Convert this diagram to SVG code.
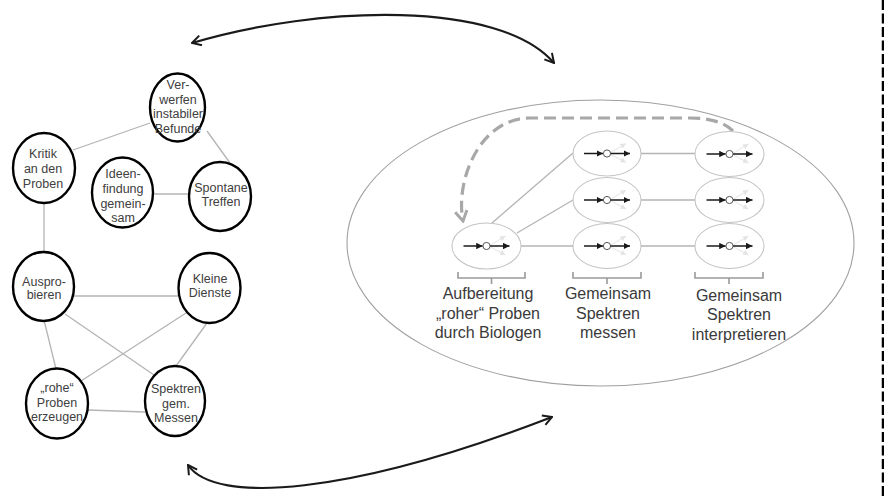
<svg xmlns="http://www.w3.org/2000/svg" width="884" height="499" viewBox="0 0 884 499">
<defs>
<style>
.n{fill:#fff;stroke:#000;stroke-width:2.4}
.t{font-family:"Liberation Sans",Arial,sans-serif;font-size:12.5px;fill:#404040;text-anchor:middle}
.lbl{font-family:"Liberation Sans",Arial,sans-serif;font-size:16px;fill:#3a3a3a;text-anchor:middle}
.e{stroke:#b4b4b4;stroke-width:1.3;fill:none}
.se{fill:#fff;stroke:#c4c4c4;stroke-width:1.1}
.big{fill:none;stroke:#1a1a1a;stroke-width:2.2}
.br{fill:none;stroke:#9a9a9a;stroke-width:1.6}
</style>
<marker id="ah" viewBox="0 0 12 12" refX="11" refY="6" markerWidth="12" markerHeight="12" markerUnits="userSpaceOnUse" orient="auto-start-reverse">
<path d="M2,1 L11,6 L2,11" fill="none" stroke="#1a1a1a" stroke-width="2"/>
</marker>
<marker id="dh" viewBox="0 0 14 14" refX="12" refY="7" markerWidth="14" markerHeight="14" markerUnits="userSpaceOnUse" orient="auto">
<path d="M2,1 L12,7 L2,13" fill="none" stroke="#a8a8a8" stroke-width="3"/>
</marker>
<marker id="sa" viewBox="0 0 6 6" refX="6" refY="3" markerWidth="6.5" markerHeight="6.5" markerUnits="userSpaceOnUse" orient="auto">
<path d="M0,0 L6,3 L0,6 Z" fill="#1a1a1a"/>
</marker>
<marker id="fa" viewBox="0 0 6 6" refX="6" refY="3" markerWidth="5.5" markerHeight="5.5" markerUnits="userSpaceOnUse" orient="auto">
<path d="M0,0 L6,3 L0,6 Z" fill="#e4e4e4"/>
</marker>
<g id="icon">
<line x1="4" y1="-1" x2="19" y2="-10" stroke="#e4e4e4" stroke-width="1" marker-end="url(#fa)"/>
<line x1="4" y1="1" x2="19" y2="9" stroke="#e4e4e4" stroke-width="1" marker-end="url(#fa)"/>
<line x1="-23" y1="0" x2="-3.8" y2="0" stroke="#1a1a1a" stroke-width="1.5" marker-end="url(#sa)"/>
<circle cx="0" cy="0" r="3.6" fill="#fff" stroke="#555" stroke-width="1"/>
<line x1="3.6" y1="0" x2="23" y2="0" stroke="#1a1a1a" stroke-width="1.5" marker-end="url(#sa)"/>
</g>
</defs>
<rect width="884" height="499" fill="#fff"/>
<line x1="883" y1="0" x2="883" y2="499" stroke="#000" stroke-width="2.5" stroke-dasharray="10,3.5"/>

<g id="connectors">
<line class="e" x1="73" y1="150" x2="150" y2="123"/>
<line class="e" x1="207" y1="131" x2="230" y2="163"/>
<line class="e" x1="153" y1="194" x2="189" y2="194"/>
<line class="e" x1="44" y1="203" x2="44" y2="252"/>
<line class="e" x1="74" y1="296" x2="178" y2="296"/>
<line class="e" x1="44" y1="320" x2="56" y2="369"/>
<line class="e" x1="65" y1="314" x2="154" y2="375"/>
<line class="e" x1="186" y1="313" x2="81" y2="381"/>
<line class="e" x1="207" y1="323" x2="176" y2="366"/>
<line class="e" x1="88" y1="410" x2="145" y2="412"/>
<path class="big" d="M192,43 C320,5 500,0 554,63" marker-start="url(#ah)" marker-end="url(#ah)"/>
<path class="big" d="M188,465 C215,505 350,495 552,417" marker-start="url(#ah)" marker-end="url(#ah)"/>
</g>

<g id="n-verwerfen"><ellipse class="n" cx="177.5" cy="107.5" rx="27.5" ry="34"/>
<text class="t" x="178" y="89">Ver-</text><text class="t" x="178" y="103.5">werfen</text><text class="t" x="178" y="118">instabiler</text><text class="t" x="178" y="132.5">Befunde</text></g>
<g id="n-kritik"><ellipse class="n" cx="44" cy="168" rx="31" ry="35"/>
<text class="t" x="43" y="157.5">Kritik</text><text class="t" x="43" y="172.5">an den</text><text class="t" x="43" y="187.5">Proben</text></g>
<g id="n-ideen"><ellipse class="n" cx="122.5" cy="192.5" rx="30.5" ry="35"/>
<text class="t" x="123" y="177.5">Ideen-</text><text class="t" x="123" y="192.5">findung</text><text class="t" x="123" y="207.5">gemein-</text><text class="t" x="123" y="222">sam</text></g>
<g id="n-spontane"><ellipse class="n" cx="220" cy="196.5" rx="31" ry="34.5"/>
<text class="t" x="221" y="191.5">Spontane</text><text class="t" x="221" y="205.5">Treffen</text></g>
<g id="n-auspro"><ellipse class="n" cx="43.5" cy="286.5" rx="30.5" ry="34.5"/>
<text class="t" x="44" y="286">Auspro-</text><text class="t" x="44" y="299">bieren</text></g>
<g id="n-kleine"><ellipse class="n" cx="209.5" cy="288" rx="31" ry="35"/>
<text class="t" x="210" y="282.5">Kleine</text><text class="t" x="210" y="296.5">Dienste</text></g>
<g id="n-rohe"><ellipse class="n" cx="57" cy="403.5" rx="31" ry="35"/>
<text class="t" x="57" y="391.5">„rohe“</text><text class="t" x="57" y="406.5">Proben</text><text class="t" x="57" y="420.5">erzeugen</text></g>
<g id="n-spektren"><ellipse class="n" cx="175" cy="401" rx="30" ry="35"/>
<text class="t" x="176" y="392.5">Spektren</text><text class="t" x="176" y="407.5">gem.</text><text class="t" x="176" y="421.5">Messen</text></g>

<g id="prozess">
<ellipse cx="600.5" cy="243" rx="253.5" ry="143" fill="none" stroke="#a0a0a0" stroke-width="1.1"/>
<g id="prozess-connectors">
<line class="e" x1="492" y1="223" x2="573" y2="153"/>
<line class="e" x1="517" y1="233" x2="573" y2="200"/>
<line class="e" x1="521" y1="246" x2="573" y2="246"/>
<line class="e" x1="641" y1="153.5" x2="695" y2="153.5"/>
<line class="e" x1="641" y1="200" x2="695" y2="200"/>
<line class="e" x1="641" y1="246" x2="695" y2="246"/>
<path d="M733,131 Q720,118 690,118 L530,118 C480,118 455,180 463,221" fill="none" stroke="#a8a8a8" stroke-width="3.2" stroke-dasharray="12,6" marker-end="url(#dh)"/>
</g>
<g id="s-a"><ellipse class="se" cx="486.5" cy="246" rx="34.5" ry="23"/><use href="#icon" x="486.5" y="246"/></g>
<g id="s-b1"><ellipse class="se" cx="607" cy="153.5" rx="34" ry="22.5"/><use href="#icon" x="607" y="153.5"/></g>
<g id="s-b2"><ellipse class="se" cx="607" cy="200" rx="34" ry="22.5"/><use href="#icon" x="607" y="200"/></g>
<g id="s-b3"><ellipse class="se" cx="607" cy="246" rx="34" ry="22.5"/><use href="#icon" x="607" y="246"/></g>
<g id="s-c1"><ellipse class="se" cx="729.5" cy="154" rx="34.5" ry="22.5"/><use href="#icon" x="729.5" y="154"/></g>
<g id="s-c2"><ellipse class="se" cx="729.5" cy="200" rx="34.5" ry="22.5"/><use href="#icon" x="729.5" y="200"/></g>
<g id="s-c3"><ellipse class="se" cx="729.5" cy="246" rx="34.5" ry="22.5"/><use href="#icon" x="729.5" y="246"/></g>
<path class="br" d="M458,272 V278 H525 V272 M491.5,278 V284"/>
<path class="br" d="M573,272 V278 H641 V272 M607,278 V284"/>
<path class="br" d="M695,272 V278 H763 V272 M729,278 V284"/>
<text class="lbl" x="488" y="299">Aufbereitung</text>
<text class="lbl" x="488" y="318.5">„roher“ Proben</text>
<text class="lbl" x="488" y="338">durch Biologen</text>
<text class="lbl" x="608" y="299">Gemeinsam</text>
<text class="lbl" x="608" y="318.5">Spektren</text>
<text class="lbl" x="608" y="338">messen</text>
<text class="lbl" x="739" y="300.5">Gemeinsam</text>
<text class="lbl" x="739" y="320">Spektren</text>
<text class="lbl" x="739" y="339.5">interpretieren</text>
</g>
</svg>
